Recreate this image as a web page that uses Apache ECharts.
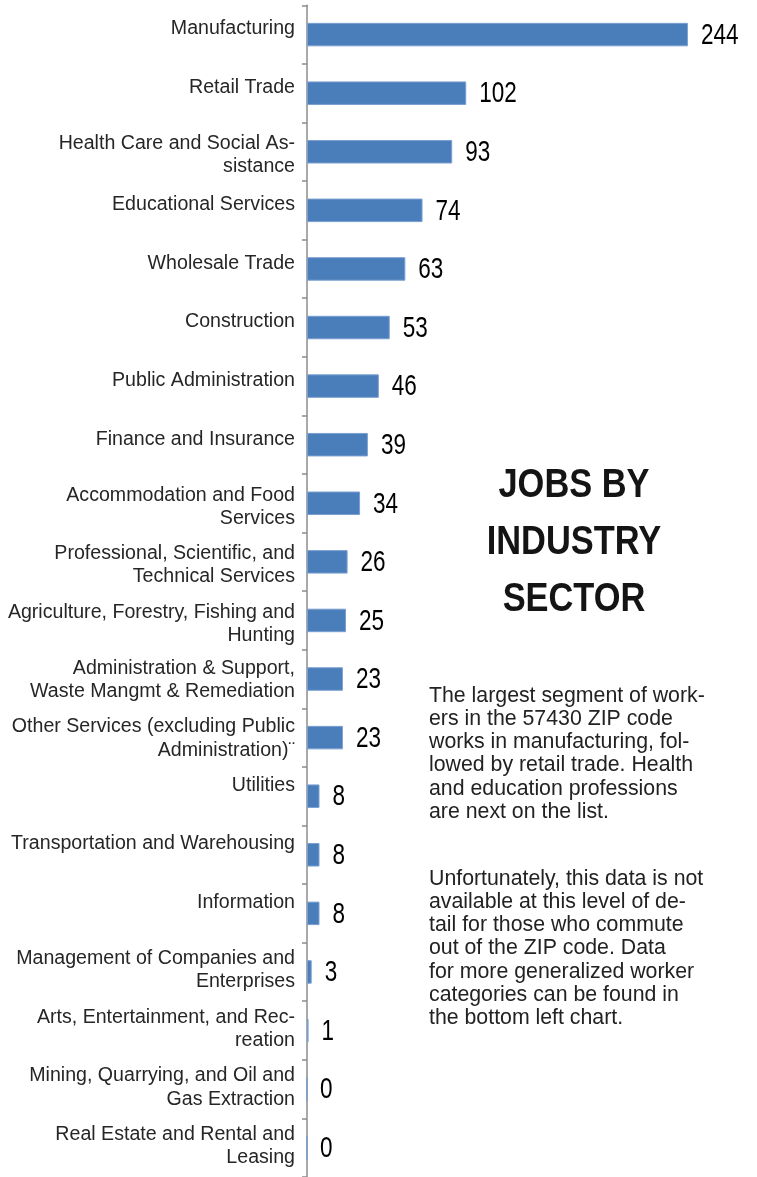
<!DOCTYPE html>
<html>
<head>
<meta charset="utf-8">
<script src="https://cdn.jsdelivr.net/npm/echarts@6/dist/echarts.min.js"></script>
<style>
html,body{margin:0;padding:0;background:#fff;}
#chart{width:757px;height:1177px;}
</style>
</head>
<body>
<div id="chart"></div>
<script>
const categories = [
  "Manufacturing",
  "Retail Trade",
  "Health Care and Social As-\nsistance",
  "Educational Services",
  "Wholesale Trade",
  "Construction",
  "Public Administration",
  "Finance and Insurance",
  "Accommodation and Food\nServices",
  "Professional, Scientific, and\nTechnical Services",
  "Agriculture, Forestry, Fishing and\nHunting",
  "Administration & Support,\nWaste Mangmt & Remediation",
  "Other Services (excluding Public\nAdministration)\u00a8",
  "Utilities",
  "Transportation and Warehousing",
  "Information",
  "Management of Companies and\nEnterprises",
  "Arts, Entertainment, and Rec-\nreation",
  "Mining, Quarrying, and Oil and\nGas Extraction",
  "Real Estate and Rental and\nLeasing"
];
const jobs = [244, 102, 93, 74, 63, 53, 46, 39, 34, 26, 25, 23, 23, 8, 8, 8, 3, 1, 0, 0];
const titleLines = ["JOBS BY", "INDUSTRY", "SECTOR"];
const paragraph1 = [
  "The largest segment of work-",
  "ers in the 57430 ZIP code",
  "works in manufacturing, fol-",
  "lowed by retail trade. Health",
  "and education professions",
  "are next on the list."
];
const paragraph2 = [
  "Unfortunately, this data is not",
  "available at this level of de-",
  "tail for those who commute",
  "out of the ZIP code. Data",
  "for more generalized worker",
  "categories can be found in",
  "the bottom left chart."
];

const sans = '"Liberation Sans", Arial, sans-serif';
const labelColor = '#262626';
const catFont = 19.6;
const catLine = 23.2;

const chart = echarts.init(document.getElementById('chart'), null, {renderer: 'canvas'});

function catStyle(pad) {
  return {fontFamily: sans, fontSize: catFont, lineHeight: catLine, color: labelColor, align: 'right', padding: pad};
}
const rich = {
  dTop: catStyle([7, 0, 0, 0]),
  dMid: catStyle([2, 0, 0, 0]),
  dBot: catStyle([0, 0, 3, 0]),
  uTop: catStyle([0, 0, 11, 0]),
  uBot: catStyle([0, 0, 22, 0])
};

const valueLabelData = jobs.map(function (v, i) { return [v, i]; });

const option = {
  animation: false,
  backgroundColor: '#ffffff',
  grid: {left: 307, top: 5.3, width: 390.3, height: 1176.8, containLabel: false},
  xAxis: {
    type: 'value', min: 0, max: 250, show: false,
    splitLine: {show: false}
  },
  yAxis: {
    type: 'category',
    inverse: true,
    data: categories,
    axisLine: {show: true, lineStyle: {color: '#8c8c8c', width: 1.5}},
    axisTick: {show: true, length: 5, lineStyle: {color: '#8c8c8c', width: 1.5}},
    axisLabel: {
      margin: 12,
      interval: 0,
      lineHeight: catLine,
      formatter: function (value, index) {
        const parts = value.split('\n');
        if (parts.length > 1) {
          const s = index < 11 ? 'dTop' : (index < 13 ? 'dMid' : 'dBot');
          return '{' + s + '|' + parts[0] + '}\n{' + s + '|' + parts[1] + '}';
        }
        return '{' + (index < 10 ? 'uTop' : 'uBot') + '|' + value + '}';
      },
      rich: rich
    },
    splitLine: {show: false}
  },
  series: [
    {
      type: 'bar',
      data: jobs,
      barWidth: 23.5,
      itemStyle: {color: '#4a7ebb', borderColor: '#7a9fd0', borderWidth: 1},
      label: {show: false}
    },
    {
      type: 'custom',
      coordinateSystem: 'cartesian2d',
      data: valueLabelData,
      encode: {x: 0, y: 1},
      silent: true,
      z: 5,
      renderItem: function (params, api) {
        const v = api.value(0);
        const p = api.coord([v, api.value(1)]);
        return {
          type: 'text',
          x: p[0] + 13,
          y: p[1] + 1,
          scaleX: 0.75,
          style: {
            text: String(v),
            fontFamily: sans,
            fontSize: 30,
            fill: '#000000',
            align: 'left',
            verticalAlign: 'middle'
          }
        };
      }
    }
  ],
  graphic: [
    {
      type: 'text',
      x: 574, y: 543,
      scaleX: 0.86,
      style: {
        text: titleLines.join('\n'),
        fontFamily: sans,
        fontWeight: 'bold',
        fontSize: 40,
        lineHeight: 57,
        fill: '#141414',
        align: 'center',
        verticalAlign: 'middle'
      }
    },
    {
      type: 'text',
      x: 429, y: 696 - 11.6,
      style: {
        text: paragraph1.join('\n'),
        fontFamily: sans,
        fontSize: 21.3,
        lineHeight: 23.2,
        fill: '#222222',
        align: 'left',
        verticalAlign: 'top'
      }
    },
    {
      type: 'text',
      x: 429, y: 879 - 11.6,
      style: {
        text: paragraph2.join('\n'),
        fontFamily: sans,
        fontSize: 21.3,
        lineHeight: 23.2,
        fill: '#222222',
        align: 'left',
        verticalAlign: 'top'
      }
    }
  ]
};
chart.setOption(option);
</script>
</body>
</html>
